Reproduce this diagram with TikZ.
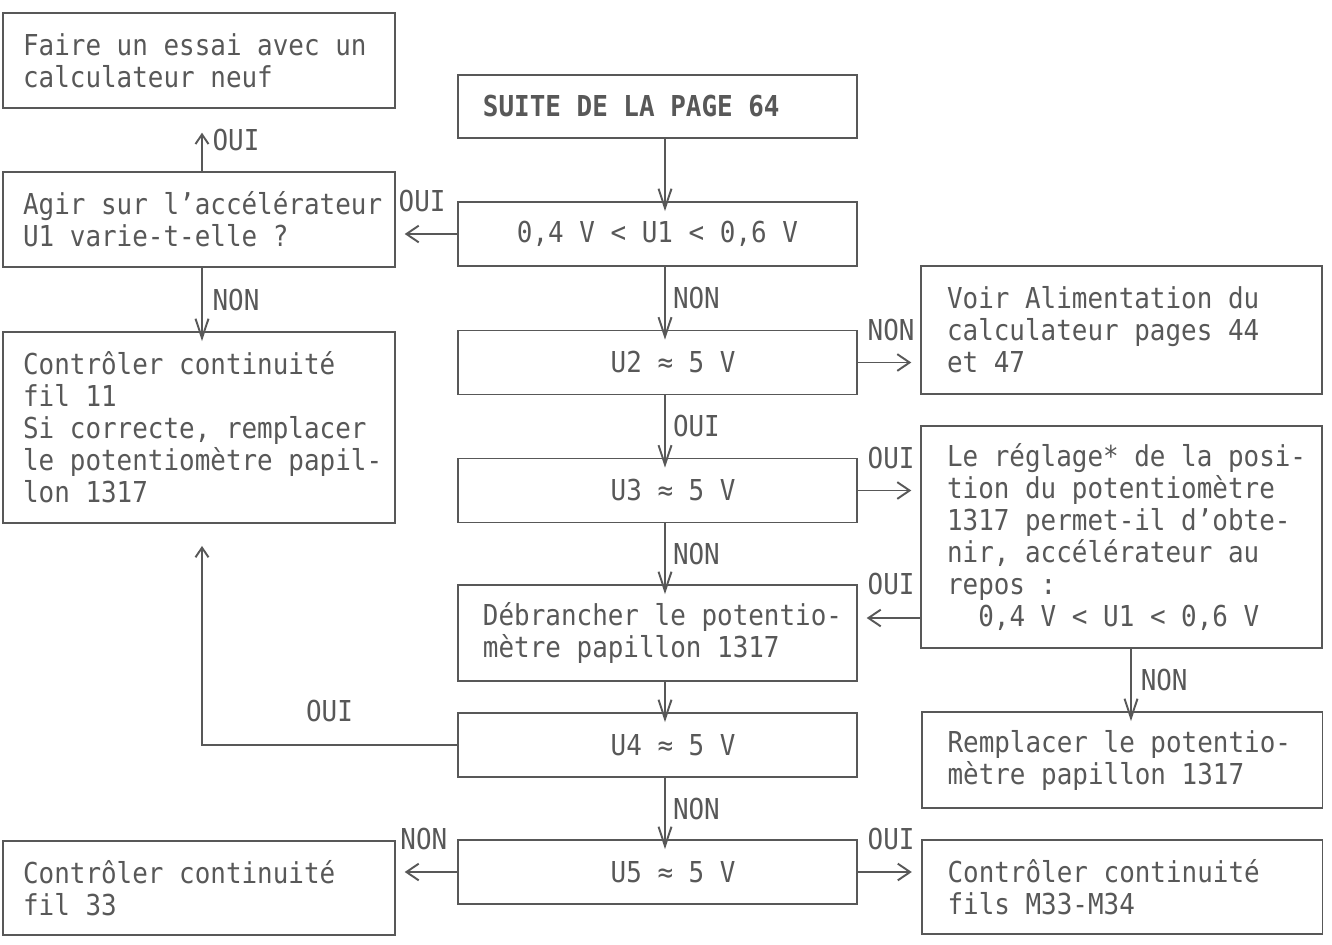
\documentclass[tikz,border=0pt]{standalone}
\usepackage{fontspec}
\usepackage{tikz}
\usetikzlibrary{arrows.meta, positioning}
\newfontfamily\lettermono[FakeStretch=0.9]{DejaVu Sans Mono}
\definecolor{inkgray}{HTML}{585858}

\begin{document}
\begin{tikzpicture}[x=0.02cm, y=-0.02cm,
    font=\lettermono\fontsize{16.4}{18.2}\selectfont\frenchspacing,
    box/.style={draw=inkgray, text=inkgray, line width=1.1pt,
                inner xsep=3pt, inner ysep=0pt},
    lbox/.style={box, minimum width=7.84cm, text width=7.84cm-6pt, align=left,
                 execute at begin node={\leftskip=8.4pt\spaceskip=0pt\xspaceskip=0pt}},
    mbox/.style={box, minimum width=7.98cm, text width=7.98cm-6pt, align=left,
                 execute at begin node={\leftskip=11.2pt\spaceskip=0pt\xspaceskip=0pt}},
    rbox/.style={box, minimum width=8.02cm, text width=8.02cm-6pt, align=left,
                 execute at begin node={\leftskip=11.8pt\spaceskip=0pt\xspaceskip=0pt}},
    qbox/.style={box, minimum width=7.98cm, minimum height=1.28cm, align=center},
    lbl/.style={text=inkgray, inner sep=2pt},
    vflow/.style={draw=inkgray, line width=1.1pt,
                  -{Straight Barb[length=11pt,width=7.4pt]}, shorten >=-5.7pt},
    hflow/.style={draw=inkgray, line width=1.1pt,
                  -{Straight Barb[length=7pt,width=9.5pt]}, shorten >=5pt},
    upflow/.style={draw=inkgray, line width=1.1pt,
                   -{Straight Barb[length=5.5pt,width=7.4pt]}}
  ]
  \useasboundingbox (0,0) rectangle (1332,944);

  % Columns for the connectors
  \coordinate (colL) at (202,0);
  \coordinate (colM) at (665,0);
  \coordinate (colR) at (1131,0);
  \coordinate (rowR) at (0,618);

  % Left column
  \node[lbox, minimum height=1.9cm] (faire) at (199,60.5)
    {Faire un essai avec un\\calculateur neuf};
  \node[lbox, minimum height=1.9cm] (agir) at (199,219.5)
    {Agir sur l’accélérateur\\U1 varie-t-elle ?};
  \node[lbox, minimum height=3.82cm] (fil11) at (199,427.5)
    {Contrôler continuité\\fil 11\\Si correcte, remplacer\\le potentiomètre papil-\\lon 1317};
  \node[lbox, minimum height=1.88cm] (fil33) at (199,888)
    {Contrôler continuité\\fil 33};

  % Middle column
  \node[mbox, minimum height=1.26cm] (suite) at (657.5,106.5)
    {\bfseries SUITE DE LA PAGE 64};
  \node[qbox] (q1) at (657.5,234) {0,4 V < U1 < 0,6 V};
  \node[qbox] (u2) at (657.5,362.5) {\phantom{00}U2 ≈ 5 V};
  \node[qbox] (u3) at (657.5,490.5) {\phantom{00}U3 ≈ 5 V};
  \node[mbox, minimum height=1.92cm] (debr) at (657.5,633)
    {Débrancher le potentio-\\mètre papillon 1317};
  \node[qbox] (u4) at (657.5,745) {\phantom{00}U4 ≈ 5 V};
  \node[qbox] (u5) at (657.5,872) {\phantom{00}U5 ≈ 5 V};

  % Right column
  \node[rbox, minimum height=2.56cm] (voir) at (1121.5,330)
    {Voir Alimentation du\\calculateur pages 44\\et 47};
  \node[rbox, minimum height=4.44cm] (reglage) at (1121.5,537)
    {Le réglage* de la posi-\\tion du potentiomètre\\1317 permet-il d’obte-\\nir, accélérateur au\\repos :\\\phantom{00}0,4 V < U1 < 0,6 V};
  \node[rbox, minimum height=1.92cm] (rempl) at (1122,760)
    {Remplacer le potentio-\\mètre papillon 1317};
  \node[rbox, minimum height=1.88cm] (m33) at (1122,887)
    {Contrôler continuité\\fils M33-M34};

  % Connectors
  \draw[vflow] (suite.south -| colM) -- (q1.north -| colM);
  \draw[hflow] (q1.west) -- (q1.west -| agir.east)
    node[lbl, left=4pt] at (q1.north west) {OUI};
  \draw[upflow, shorten >=13.5pt] (agir.north -| colL) -- (faire.south -| colL)
    node[lbl, midway, right=3.5pt] {OUI};
  \draw[vflow] (agir.south -| colL) -- node[lbl, right=3.5pt] {NON} (fil11.north -| colL);
  \draw[vflow] (q1.south -| colM) -- node[lbl, right=2pt] {NON} (u2.north -| colM);
  \draw[hflow] (u2.east) -- (u2.east -| voir.west)
    node[lbl, right=3pt] at (u2.north east) {NON};
  \draw[vflow] (u2.south -| colM) -- node[lbl, right=2pt] {OUI} (u3.north -| colM);
  \draw[hflow] (u3.east) -- (u3.east -| reglage.west)
    node[lbl, right=3pt] at (u3.north east) {OUI};
  \draw[vflow] (u3.south -| colM) -- node[lbl, right=2pt] {NON} (debr.north -| colM);
  \draw[hflow] (reglage.west |- rowR) -- (debr.east |- rowR)
    node[lbl, right=3pt] at (debr.north east) {OUI};
  \draw[vflow] (reglage.south -| colR) -- node[lbl, right=3pt] {NON} (rempl.north -| colR);
  \draw[vflow] (debr.south -| colM) -- (u4.north -| colM);
  \draw[upflow, shorten >=12.5pt] (u4.west) -| node[lbl, pos=0.25, above=10.5pt] {OUI}
    (fil11.south -| colL);
  \draw[vflow] (u4.south -| colM) -- node[lbl, right=2pt] {NON} (u5.north -| colM);
  \draw[hflow] (u5.west) -- (u5.west -| fil33.east)
    node[lbl, left=3pt] at (u5.north west) {NON};
  \draw[hflow] (u5.east) -- (u5.east -| m33.west)
    node[lbl, right=3pt] at (u5.north east) {OUI};
\end{tikzpicture}
\end{document}
